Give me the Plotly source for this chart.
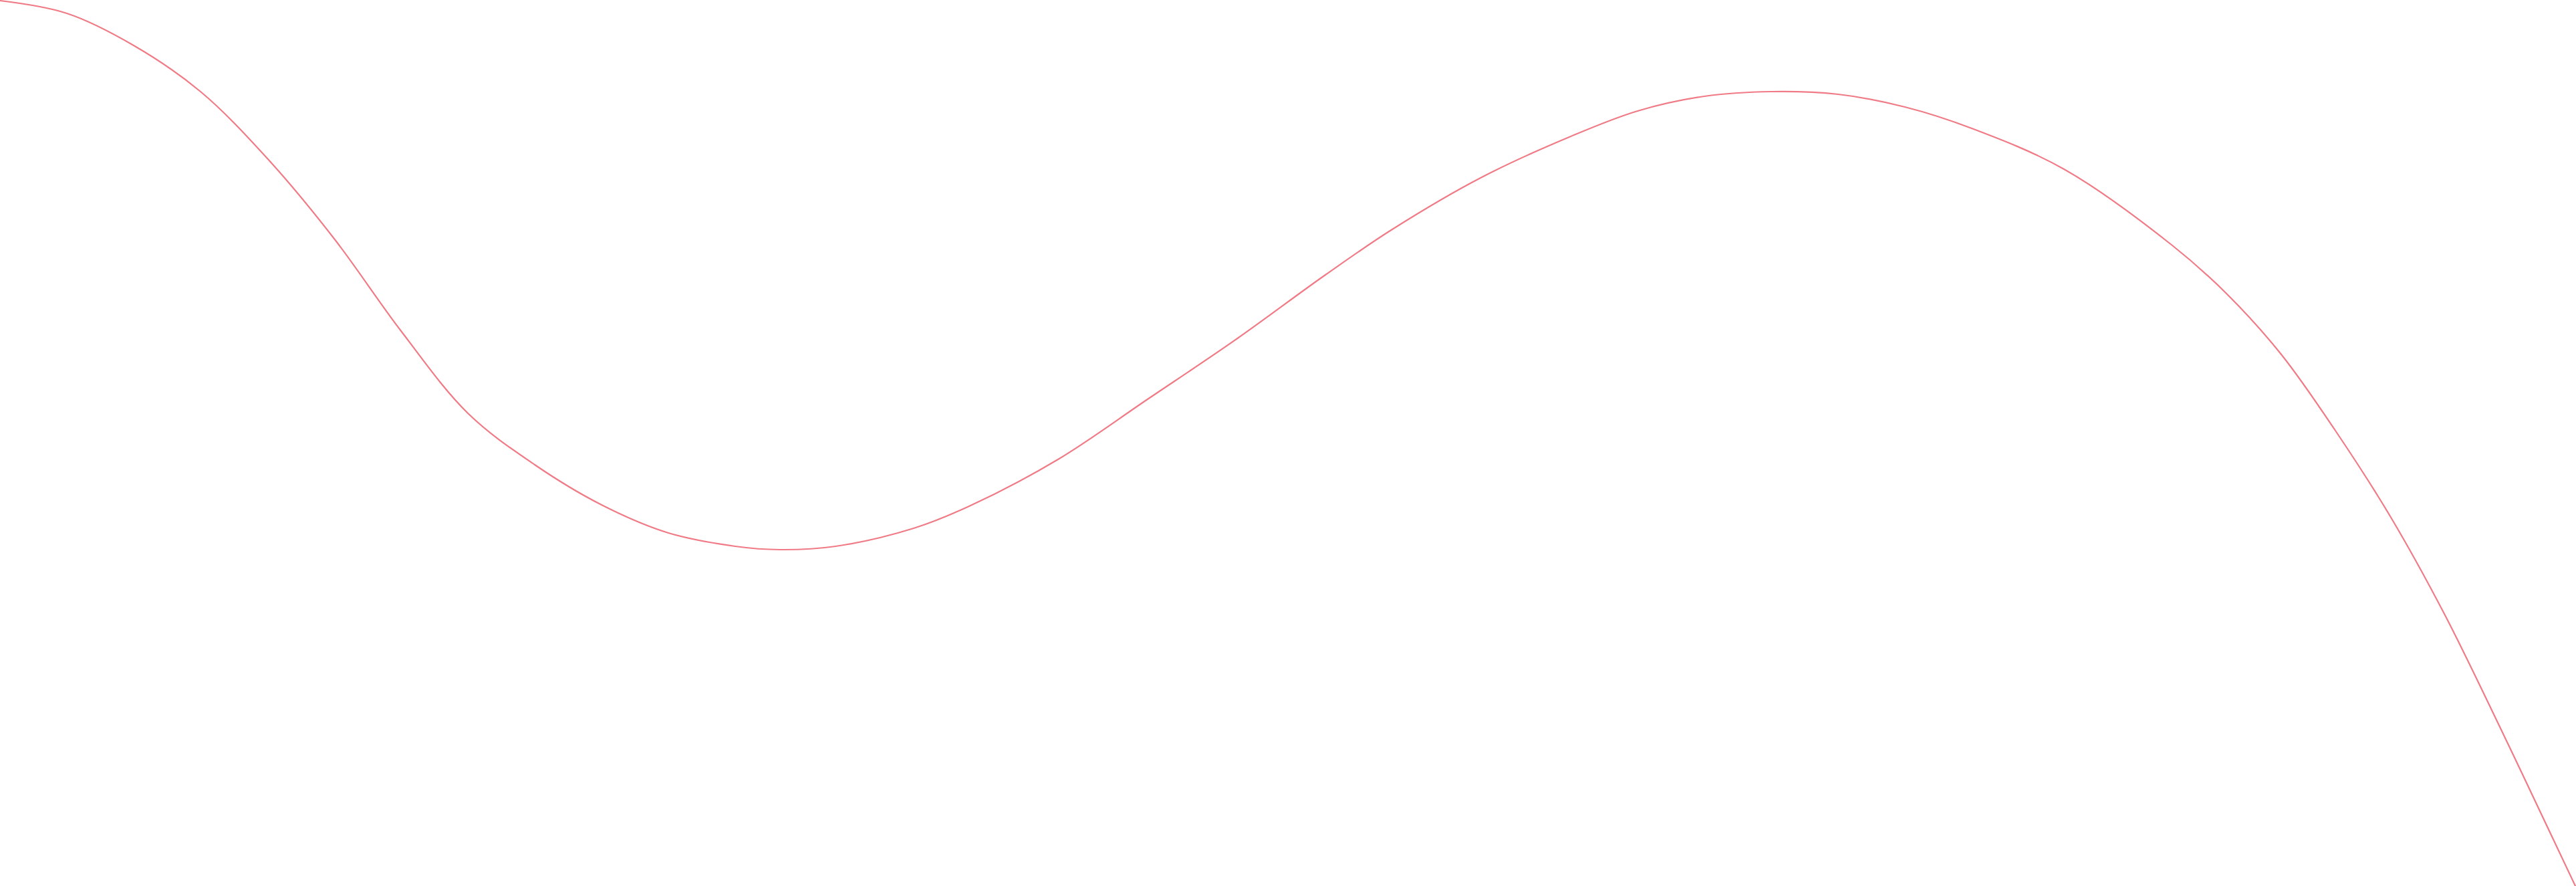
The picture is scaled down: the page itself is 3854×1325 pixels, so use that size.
import plotly.graph_objects as go

# Curve points (pixel-like units, y grows downward)
x_vals = [0, 100, 200, 300, 400, 500, 600, 700, 800, 900, 1000, 1100, 1167,
          1250, 1367, 1450, 1583, 1717, 1850, 1983, 2083, 2217, 2350, 2450,
          2550, 2650, 2750, 2850, 2950, 3088, 3250, 3332, 3413, 3494, 3576,
          3657, 3740, 3782, 3854]
y_vals = [1, 20, 68, 137, 237, 357, 495, 618, 695, 755, 797, 817, 822,
          817, 790, 757, 687, 597, 507, 411, 343, 265, 204, 166,
          144, 137, 141, 160, 192, 253, 367, 440, 530, 644, 772,
          918, 1087, 1175, 1327]

W, H = 3854, 1325

fig = go.Figure()
fig.add_trace(go.Scatter(x=x_vals, y=y_vals, mode='lines',
                         line=dict(color='#F07A85', width=2.2, shape='spline', smoothing=1),
                         hoverinfo='skip', showlegend=False))

fig.update_layout(width=W, height=H, margin=dict(l=0, r=0, t=0, b=0),
                  paper_bgcolor='white', plot_bgcolor='white',
                  xaxis=dict(range=[0, W], visible=False, fixedrange=True),
                  yaxis=dict(range=[H, 0], visible=False, fixedrange=True))

fig.write_html("out.html", config={'displayModeBar': False},
               post_script="document.body.style.margin='0';")
